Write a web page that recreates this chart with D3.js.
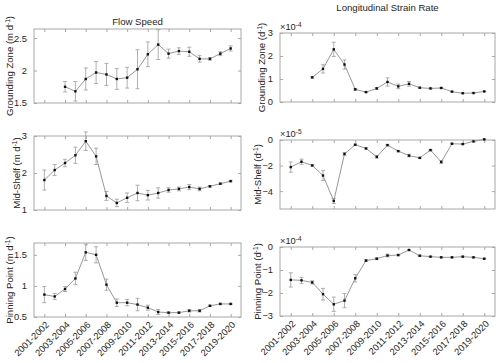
<!DOCTYPE html>
<html>
<head>
<meta charset="utf-8">
<script src="https://cdn.jsdelivr.net/npm/d3@7"></script>
<style>
body{margin:0;background:#fff;}
text{font-family:"Liberation Sans",Arial,sans-serif;fill:#262626;}
</style>
</head>
<body>
<svg id="chart" width="500" height="363"></svg>
<script>
var svg = d3.select('#chart');

// seasons, index 1..19
var seasons = ["2001-2002","2002-2003","2003-2004","2004-2005","2005-2006","2006-2007",
	"2007-2008","2008-2009","2009-2010","2010-2011","2011-2012","2012-2013","2013-2014",
	"2014-2015","2015-2016","2016-2017","2017-2018","2018-2019","2019-2020"];
var tickSeasons = ["2001-2002","2003-2004","2005-2006","2007-2008","2009-2010",
	"2011-2012","2013-2014","2015-2016","2017-2018","2019-2020"];

// flow speed (m/d)
var gzSpeed    = [null,null,1.75,1.68,1.87,1.97,1.94,1.87,1.89,2.02,2.25,2.40,2.26,2.30,2.29,2.18,2.18,2.26,2.34];
var gzSpeedErr = [null,null,0.08,0.15,0.17,0.17,0.17,0.16,0.16,0.30,0.19,0.23,0.07,0.05,0.07,0.05,0.02,0.03,0.04];
var msSpeed    = [1.81,2.08,2.27,2.48,2.86,2.45,1.38,1.19,1.33,1.46,1.40,1.46,1.54,1.57,1.62,1.57,1.64,1.71,1.78];
var msSpeedErr = [0.27,0.15,0.10,0.22,0.25,0.22,0.12,0.10,0.13,0.21,0.13,0.14,0.06,0.05,0.07,0.05,0.02,0.02,0.02];
var ppSpeed    = [0.86,0.83,0.95,1.12,1.54,1.50,1.02,0.73,0.73,0.70,0.65,0.58,0.57,0.57,0.60,0.60,0.68,0.71,0.71];
var ppSpeedErr = [0.13,0.05,0.04,0.10,0.13,0.13,0.09,0.06,0.05,0.10,0.04,0.04,0.01,0.01,0.02,0.02,0.01,0.01,0.01];

// longitudinal strain rate (1/d), in units of the axis exponent
var gzStrain    = [null,null,1.07,1.44,2.29,1.63,0.55,0.43,0.59,0.87,0.68,0.79,0.62,0.59,0.61,0.45,0.38,0.39,0.46]; // x1e-4
var gzStrainErr = [null,null,0.03,0.18,0.31,0.20,0.04,0.02,0.04,0.18,0.10,0.10,0.02,0.02,0.02,0.01,0.01,0.01,0.01];
var msStrain    = [-2.12,-1.70,-1.99,-2.78,-4.77,-1.09,-0.37,-0.66,-1.32,-0.40,-0.87,-1.22,-1.40,-0.79,-1.72,-0.29,-0.32,-0.11,0.05]; // x1e-5
var msStrainErr = [0.40,0.20,0.05,0.38,0.20,0.10,0.05,0.05,0.10,0.05,0.05,0.10,0.05,0.05,0.10,0.03,0.03,0.03,0.03];
var ppStrain    = [-1.43,-1.45,-1.54,-2.05,-2.49,-2.33,-1.36,-0.59,-0.51,-0.37,-0.35,-0.13,-0.38,-0.42,-0.45,-0.45,-0.42,-0.45,-0.51]; // x1e-4
var ppStrainErr = [0.31,0.13,0.07,0.25,0.31,0.31,0.16,0.04,0.04,0.06,0.03,0.02,0.02,0.02,0.02,0.02,0.02,0.02,0.02];

var gzSpeedTicks = [1.5,2,2.5];
var msSpeedTicks = [1,2,3];
var ppSpeedTicks = [0.5,1,1.5];
var gzStrainTicks = [0,1,2,3];
var msStrainTicks = [-4,-2,0];
var ppStrainTicks = [-3,-2,-1,0];

var fmt = d3.format("~g");
var boxColor = "#a8a8a8";

var drawPanel = function(p){
	var g = svg.append("g");
	var x = d3.scalePoint().domain(seasons).range([0,0]); // placeholder
	var xi = d3.scaleLinear().domain(p.xdom).range([p.x0,p.x1]);
	var y = d3.scaleLinear().domain(p.ydom).range([p.y1,p.y0]);
	var xpos = function(s){ return xi(seasons.indexOf(s) + 1); };

	// axes with inward ticks on all four sides
	var ax = g.append("g").attr("class","axes");
	ax.append("g").attr("transform","translate(0,"+p.y1+")")
		.call(d3.axisBottom(xi).tickValues(tickSeasons.map(function(s){return seasons.indexOf(s)+1;}))
			.tickSize(-3).tickFormat(""));
	ax.append("g").attr("transform","translate(0,"+p.y0+")")
		.call(d3.axisTop(xi).tickValues(tickSeasons.map(function(s){return seasons.indexOf(s)+1;}))
			.tickSize(-3).tickFormat(""));
	ax.append("g").attr("transform","translate("+p.x0+",0)")
		.call(d3.axisLeft(y).tickValues(p.yticks).tickSize(-3).tickPadding(7).tickFormat(fmt));
	ax.append("g").attr("transform","translate("+p.x1+",0)")
		.call(d3.axisRight(y).tickValues(p.yticks).tickSize(-3).tickFormat(""));
	ax.selectAll(".domain").remove();
	ax.selectAll(".tick line").attr("stroke",boxColor);
	ax.selectAll(".tick text").attr("font-size","9.3px").attr("fill","#262626")
		.style("font-family","'Liberation Sans',Arial,sans-serif");

	g.append("rect")
		.attr("x",p.x0).attr("y",p.y0)
		.attr("width",p.x1-p.x0).attr("height",p.y1-p.y0)
		.attr("fill","none").attr("stroke",boxColor).attr("stroke-width",1);

	var pts = [];
	p.values.forEach(function(v,i){
		if(v !== null) pts.push({s:seasons[i], v:v, e:p.errs[i]});
	});

	// error bars
	var eb = g.append("g").attr("stroke","#9a9a9a").attr("stroke-width",0.8);
	eb.selectAll("line.v").data(pts).enter().append("line")
		.attr("x1",function(d){return xpos(d.s);})
		.attr("x2",function(d){return xpos(d.s);})
		.attr("y1",function(d){return y(d.v - d.e);})
		.attr("y2",function(d){return y(d.v + d.e);});
	eb.selectAll("line.t").data(pts).enter().append("line")
		.attr("x1",function(d){return xpos(d.s)-2;})
		.attr("x2",function(d){return xpos(d.s)+2;})
		.attr("y1",function(d){return y(d.v + d.e);})
		.attr("y2",function(d){return y(d.v + d.e);});
	eb.selectAll("line.b").data(pts).enter().append("line")
		.attr("x1",function(d){return xpos(d.s)-2;})
		.attr("x2",function(d){return xpos(d.s)+2;})
		.attr("y1",function(d){return y(d.v - d.e);})
		.attr("y2",function(d){return y(d.v - d.e);});

	// connecting line
	g.append("path")
		.datum(pts)
		.attr("fill","none").attr("stroke","#8c8c8c").attr("stroke-width",0.9)
		.attr("d",d3.line().x(function(d){return xpos(d.s);}).y(function(d){return y(d.v);}));

	// markers
	g.selectAll("rect.m").data(pts).enter().append("rect")
		.attr("x",function(d){return xpos(d.s)-1.2;})
		.attr("y",function(d){return y(d.v)-1.2;})
		.attr("width",2.4).attr("height",2.4)
		.attr("fill","#111");

	// y label with superscript
	var yl = g.append("text")
		.attr("transform","translate("+p.labelX+","+((p.y0+p.y1)/2)+") rotate(-90)")
		.attr("text-anchor","middle").attr("font-size","9.6px");
	yl.append("tspan").text(p.ylabel[0]);
	yl.append("tspan").attr("baseline-shift","super").attr("font-size","6.5px").text("-1");
	yl.append("tspan").text(")");

	// exponent label
	if(p.exp){
		var ex = g.append("text").attr("x",p.x0).attr("y",p.y0-3).attr("font-size","9.3px");
		ex.append("tspan").text("\u00d710");
		ex.append("tspan").attr("baseline-shift","super").attr("font-size","6.5px").text(p.exp);
	}

	// rotated season labels
	if(p.showX){
		g.selectAll("text.xl").data(tickSeasons).enter().append("text")
			.attr("transform",function(s){return "translate("+(xpos(s)+3)+","+(p.y1+6)+") rotate(-45)";})
			.attr("text-anchor","end").attr("dy","0.35em").attr("font-size","9.3px")
			.text(function(s){return s;});
	}
};

var L = {x0:34, x1:241, xdom:[0,20]};
var R = {x0:280, x1:495, xdom:[0,20]};

drawPanel(Object.assign({}, L, {y0:29, y1:103, ydom:[1.5,2.64], yticks:gzSpeedTicks,
	values:gzSpeed, errs:gzSpeedErr, ylabel:["Grounding Zone (m d"], labelX:13}));
drawPanel(Object.assign({}, L, {y0:136, y1:210, ydom:[1,3], yticks:msSpeedTicks,
	values:msSpeed, errs:msSpeedErr, ylabel:["Mid-Shelf (m d"], labelX:20}));
drawPanel(Object.assign({}, L, {y0:243, y1:317, ydom:[0.5,1.69], yticks:ppSpeedTicks,
	values:ppSpeed, errs:ppSpeedErr, ylabel:["Pinning Point (m d"], labelX:13, showX:true}));

drawPanel(Object.assign({}, R, {y0:33, y1:102, ydom:[0,3], yticks:gzStrainTicks,
	values:gzStrain, errs:gzStrainErr, ylabel:["Grounding Zone (d"], labelX:265, exp:"-4"}));
drawPanel(Object.assign({}, R, {y0:140, y1:209, ydom:[-5.4,0], yticks:msStrainTicks,
	values:msStrain, errs:msStrainErr, ylabel:["Mid-Shelf (d"], labelX:261, exp:"-5"}));
drawPanel(Object.assign({}, R, {y0:247, y1:316, ydom:[-3,0], yticks:ppStrainTicks,
	values:ppStrain, errs:ppStrainErr, ylabel:["Pinning Point (d"], labelX:261, exp:"-4", showX:true}));

// column titles
svg.append("text").attr("x",(L.x0+L.x1)/2).attr("y",25).attr("text-anchor","middle")
	.attr("font-size","9.6px").text("Flow Speed");
svg.append("text").attr("x",(R.x0+R.x1)/2).attr("y",11).attr("text-anchor","middle")
	.attr("font-size","9.6px").text("Longitudinal Strain Rate");
</script>
</body>
</html>
